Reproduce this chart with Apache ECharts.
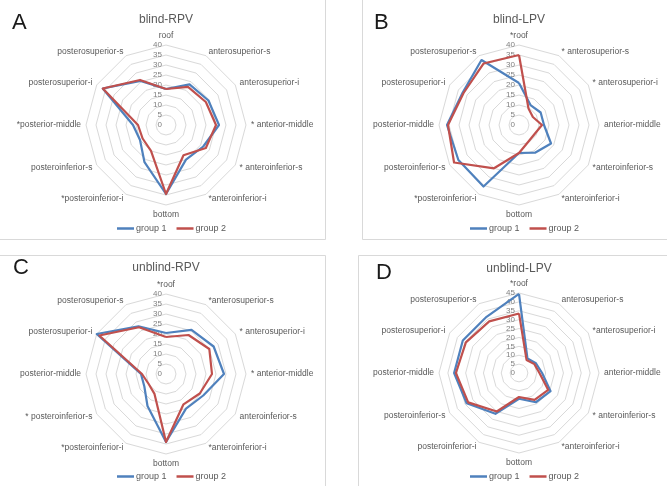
<!DOCTYPE html>
<html><head><meta charset="utf-8">
<script src="https://cdn.jsdelivr.net/npm/echarts@6/dist/echarts.min.js"></script>
<style>html,body{margin:0;padding:0;background:#fff}#c{width:667px;height:486px}</style>
</head><body><div id="c"></div>
<script>
// ---- data (axes listed clockwise from the top) ----
const axesA = ['roof','anterosuperior-s','anterosuperior-i','* anterior-middle','* anteroinferior-s','*anteroinferior-i','bottom','*posteroinferior-i','posteroinferior-s','*posterior-middle','posterosuperior-i','posterosuperior-s'];
const axesB = ['*roof','* anterosuperior-s','* anterosuperior-i','anterior-middle','*anteroinferior-s','*anteroinferior-i','bottom','*posteroinferior-i','posteroinferior-s','posterior-middle','posterosuperior-i','posterosuperior-s'];
const axesC = ['*roof','*anterosuperior-s','* anterosuperior-i','* anterior-middle','anteroinferior-s','*anteroinferior-i','bottom','*posteroinferior-i','* posteroinferior-s','posterior-middle','posterosuperior-i','posterosuperior-s'];
const axesD = ['*roof','anterosuperior-s','*anterosuperior-i','anterior-middle','* anteroinferior-s','*anteroinferior-i','bottom','posteroinferior-i','posteroinferior-s','posterior-middle','posterosuperior-i','posterosuperior-s'];

const blindRPV_g1   = [18, 23.5, 24.5, 26.5, 21.5, 20, 34.5, 21.5, 15, 16.5, 36.5, 25.5];
const blindRPV_g2   = [18, 22, 23, 25, 23, 17.5, 34.5, 15, 13.5, 14, 36.5, 26];
const blindLPV_g1   = [21, 11.5, 12.5, 12.5, 18.5, 16, 14, 35.5, 35, 36, 32.5, 37.5];
const blindLPV_g2   = [35, 9.5, 8, 11.5, 9, 9.5, 14, 25, 37.5, 35.5, 32, 35.5];
const unblindRPV_g1 = [20.5, 25.5, 27.5, 29, 21.5, 20, 34, 18.5, 12.5, 12.5, 40, 27.5];
const unblindRPV_g2 = [18.5, 22.5, 25, 23, 19.5, 17.5, 34, 11.5, 10, 12, 38.5, 27];
const unblindLPV_g1 = [44.5, 9.5, 11, 13, 20.5, 19, 14.5, 26.5, 34, 36.5, 36.5, 36.5];
const unblindLPV_g2 = [33.5, 8.5, 10, 11.5, 19, 17.5, 13.5, 25, 33, 35.5, 34.5, 33.5];

const ticks40 = [0,5,10,15,20,25,30,35,40];
const ticks45 = [0,5,10,15,20,25,30,35,40,45];

const titles = ['blind-RPV','blind-LPV','unblind-RPV','unblind-LPV'];
const letters = ['A','B','C','D'];
const groupNames = ['group 1','group 2'];
const groupColors = ['#4F81BD','#C0504D'];

// ---- layout ----
const panels = [
  {axes: axesA, g1: blindRPV_g1, g2: blindRPV_g2, ticks: ticks40, cx:166, cy:125, letterX:12, letterY:12, titleY:20, legX:117, legY:224},
  {axes: axesB, g1: blindLPV_g1, g2: blindLPV_g2, ticks: ticks40, cx:519, cy:125, letterX:374, letterY:12, titleY:20, legX:470, legY:224},
  {axes: axesC, g1: unblindRPV_g1, g2: unblindRPV_g2, ticks: ticks40, cx:166, cy:374, letterX:13, letterY:257, titleY:268, legX:117, legY:472},
  {axes: axesD, g1: unblindLPV_g1, g2: unblindLPV_g2, ticks: ticks45, cx:519, cy:373, letterX:376, letterY:262, titleY:269, legX:470, legY:472}
];
// echarts radar runs counter-clockwise; map clockwise order onto it
const order = [0,11,10,9,8,7,6,5,4,3,2,1];
const reorder = arr => order.map(i => arr[i]);

const FONT = 'Liberation Sans, Arial, sans-serif';
const radar = [], series = [], legend = [], graphic = [];

// panel frames
[[-1,-1,326,240],[362,-1,306,240],[-1,255,326,232],[358,255,310,232]].forEach(r=>{
  graphic.push({type:'rect', shape:{x:r[0]+0.5,y:r[1]+0.5,width:r[2],height:r[3]}, style:{fill:'none', stroke:'#D9D9D9', lineWidth:1}, z:-10, silent:true});
});

panels.forEach((p, idx) => {
  const max = p.ticks[p.ticks.length-1];
  radar.push({
    center: [p.cx, p.cy], radius: 80, startAngle: 90, shape: 'polygon',
    splitNumber: p.ticks.length - 1,
    indicator: reorder(p.axes).map((n, k) => {
      const o = {name: n, min: 0, max: max};
      if (k === 0) o.axisLabel = {show: true, color:'#7f7f7f', fontSize: 8, fontFamily: FONT, margin: 4};
      return o;
    }),
    axisName: {color:'#595959', fontSize: 8.5, fontFamily: FONT},
    nameGap: 5,
    splitLine: {lineStyle: {color:'#D9D9D9', width: 1}},
    splitArea: {show: false},
    axisLine: {show: false},
    axisTick: {show: false},
    axisLabel: {show: false}
  });
  series.push({
    type: 'radar', radarIndex: idx, symbol: 'none', silent: true,
    data: [p.g1, p.g2].map((d, g) => ({
      name: groupNames[g], value: reorder(d),
      lineStyle: {color: groupColors[g], width: 2.2},
      itemStyle: {color: groupColors[g]}
    }))
  });
  legend.push({
    data: groupNames, left: p.legX, top: p.legY, icon: 'rect', itemWidth: 17, itemHeight: 2.5, itemGap: 10,
    textStyle: {color:'#595959', fontSize: 9, fontFamily: FONT, padding:[0,0,0,-3]}, padding: 0, selectedMode: false
  });
  graphic.push({type:'text', left: p.letterX, top: p.letterY, style:{text: letters[idx], fill:'#1a1a1a', font: '22px ' + FONT}});
  graphic.push({type:'text', x: p.cx, y: p.titleY, style:{text: titles[idx], fill:'#595959', font: '12px ' + FONT, textAlign:'center', textVerticalAlign:'middle'}});
});

const chart = echarts.init(document.getElementById('c'), null, {renderer:'canvas'});
chart.setOption({animation:false, backgroundColor:'#fff', radar, series, legend, graphic});
</script></body></html>
